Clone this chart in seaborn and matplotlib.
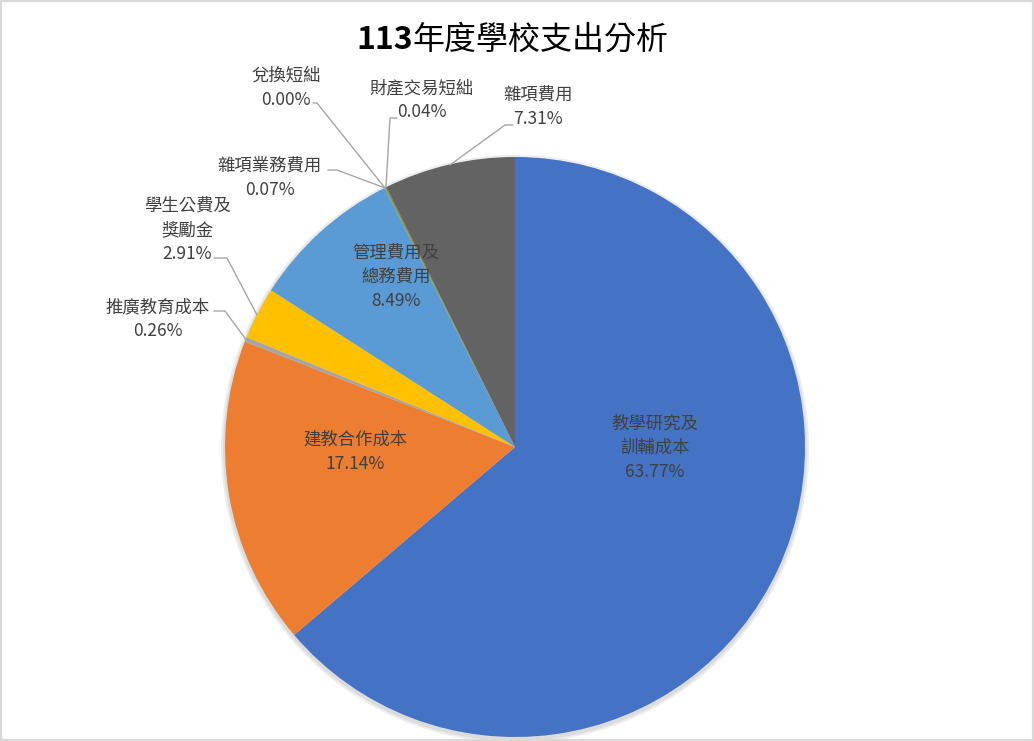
import matplotlib
matplotlib.use("Agg")
import matplotlib.pyplot as plt
import seaborn as sns
from matplotlib.patches import Rectangle

# ---- data ----
categories = ["教學研究及\n訓輔成本", "建教合作成本", "推廣教育成本", "學生公費及\n獎勵金",
              "管理費用及\n總務費用", "雜項業務費用", "兌換短絀", "財產交易短絀", "雜項費用"]
values = [63.77, 17.14, 0.26, 2.91, 8.49, 0.07, 0.00, 0.04, 7.31]
colors = ["#4472C4", "#ED7D31", "#A5A5A5", "#FFC000", "#5B9BD5",
          "#70AD47", "#264478", "#9E480E", "#636363"]
title_num = "113"
title_txt = "年度學校支出分析"

sns.set_theme(style="white")
plt.rcParams['font.family'] = ['Noto Sans CJK TC', 'DejaVu Sans']

W, H = 1034, 741
fig = plt.figure(figsize=(W / 100, H / 100), dpi=100)
ax = fig.add_axes([0, 0, 1, 1])

def Y(py):
    return H - py

cx, cy, r = 515, 447, 290
palette = sns.color_palette(colors)

# soft shadow
for dr, c in [(4, "#EDEDED"), (2, "#DCDCDC")]:
    ax.add_patch(plt.Circle((cx, Y(cy) - 2), r + dr, color=c, zorder=0, lw=0))

wedges, _ = ax.pie(values, colors=palette, startangle=90, counterclock=False,
                   center=(cx, Y(cy)), radius=r, frame=True,
                   wedgeprops=dict(linewidth=0, zorder=1))

ax.set_xlim(0, W)
ax.set_ylim(0, H)
ax.set_aspect('equal')
ax.axis('off')

fs = 12.5
lsp = 1.45
tcol = "#404040"

# inner labels (layout positions in px)
inner = {0: (655, 448), 1: (355, 452), 4: (396, 277)}
for i, (tx, ty) in inner.items():
    ax.text(tx, Y(ty), f"{categories[i]}\n{values[i]:.2f}%", ha="center", va="center",
            fontsize=fs, color=tcol, linespacing=lsp, zorder=5)

# outer labels with leader lines: text pos, line points (px)
outer = {
    2: ((158, 319), [(214, 311), (225, 311), (247, 341)]),
    3: ((187, 230), [(214, 258), (227, 258), (257, 315)]),
    5: ((270, 178), [(328, 170), (337, 170), (385, 188)]),
    6: ((286, 88), [(313, 103), (317, 103), (385, 188)]),
    7: ((422, 100), [(397, 118), (390, 118), (386, 187)]),
    8: ((538, 107), [(513, 125), (505, 125), (450, 165)]),
}
for i, ((tx, ty), pts) in outer.items():
    ax.text(tx, Y(ty), f"{categories[i]}\n{values[i]:.2f}%", ha="center", va="center",
            fontsize=fs, color=tcol, linespacing=lsp, zorder=5)
    xs = [p[0] for p in pts]
    ys = [Y(p[1]) for p in pts]
    ax.plot(xs, ys, color="#A6A6A6", lw=1, zorder=4)

t1 = ax.text(356, Y(40), title_num, ha="left", va="center", fontsize=23,
             fontweight="bold", color="black")
ax.annotate(title_txt, xy=(1, 0.5), xycoords=t1, ha="left", va="center",
            fontsize=23, fontweight="normal", color="black")

fig.patches.append(Rectangle((0, 0), 1, 1, transform=fig.transFigure, fill=False,
                             edgecolor="#D9D9D9", lw=3))

fig.savefig("out.png", dpi=100)
